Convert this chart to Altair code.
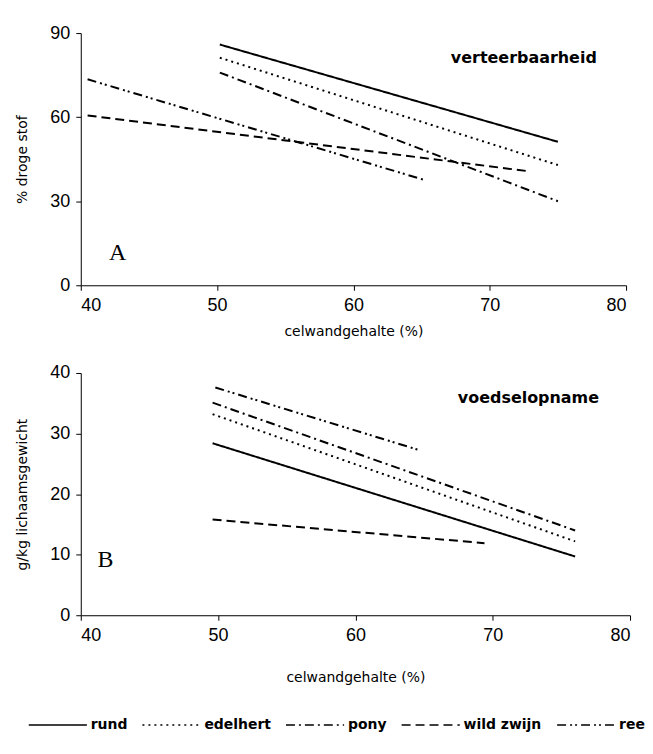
import altair as alt
import pandas as pd

species = ["rund", "edelhert", "pony", "wild zwijn", "ree"]
dashes = [[1, 0], [2, 4], [9, 4, 2, 4], [9, 5], [9, 4, 2, 3, 2, 4]]

# Panel A: verteerbaarheid (% droge stof) – start and end of each line
a_x0 = [50.2, 50.2, 50.2, 40.5, 40.5]
a_y0 = [85.9, 81.2, 75.9, 60.6, 73.5]
a_x1 = [75.0, 75.0, 75.0, 73.0, 65.2]
a_y1 = [51.2, 42.9, 30.0, 40.6, 37.6]

# Panel B: voedselopname (g/kg lichaamsgewicht)
b_x0 = [49.6, 49.6, 49.6, 49.6, 49.8]
b_y0 = [28.4, 33.2, 35.1, 15.8, 37.6]
b_x1 = [76.0, 76.0, 76.0, 69.4, 64.6]
b_y1 = [9.7, 12.2, 14.0, 11.9, 27.3]

a_labels = ["verteerbaarheid", "A"]
a_lab_x = [72.5, 42.7]
a_lab_y = [81.2, 11.5]
b_labels = ["voedselopname", "B"]
b_lab_x = [72.6, 41.8]
b_lab_y = [35.9, 9.1]


def long(x0, y0, x1, y1):
    rows = []
    for i, s in enumerate(species):
        rows.append({"soort": s, "x": x0[i], "y": y0[i], "o": 0})
        rows.append({"soort": s, "x": x1[i], "y": y1[i], "o": 1})
    return pd.DataFrame(rows)


dash_scale = alt.Scale(domain=species, range=dashes)
legend = alt.Legend(title=None, orient="none", legendX=-53, legendY=664,
                    direction="horizontal", symbolType="stroke",
                    symbolSize=3400, symbolStrokeWidth=1.5,
                    symbolStrokeColor="black", labelFont="DejaVu Sans",
                    labelFontSize=14, labelFontWeight="bold",
                    labelColor="black", columnPadding=11, labelOffset=3,
                    padding=0)


def panel(df, ytitle, ydom, yvals, labs, lx, ly, w, h, tpad):
    xenc = alt.X("x:Q", scale=alt.Scale(domain=[40, 80]),
                 axis=alt.Axis(values=[40, 50, 60, 70, 80],
                               title="celwandgehalte (%)", titlePadding=tpad))
    lines = alt.Chart(df).mark_line(color="black", strokeWidth=2).encode(
        x=xenc,
        y=alt.Y("y:Q", scale=alt.Scale(domain=ydom),
                axis=alt.Axis(values=yvals, title=ytitle)),
        strokeDash=alt.StrokeDash("soort:N", scale=dash_scale, legend=legend),
        detail="soort:N",
        order="o:Q",
    )
    ldf = pd.DataFrame({"t": labs, "x": lx, "y": ly})
    word = alt.Chart(ldf.iloc[[0]]).mark_text(font="DejaVu Sans", fontSize=16,
                                             fontWeight="bold", color="black").encode(
        x="x:Q", y="y:Q", text="t:N")
    letter = alt.Chart(ldf.iloc[[1]]).mark_text(font="Liberation Serif", fontSize=24,
                                               color="black").encode(
        x="x:Q", y="y:Q", text="t:N")
    return alt.layer(lines, word, letter).properties(width=w, height=h)


top = panel(long(a_x0, a_y0, a_x1, a_y1), "% droge stof", [0, 90], [0, 30, 60, 90],
            a_labels, a_lab_x, a_lab_y, 547, 253, 10)
bot = panel(long(b_x0, b_y0, b_x1, b_y1), "g/kg lichaamsgewicht", [0, 40],
            [0, 10, 20, 30, 40], b_labels, b_lab_x, b_lab_y, 551, 243, 26)

chart = alt.vconcat(top, bot, spacing=26).properties(
    padding={"left": 7, "top": 15, "right": 0, "bottom": 5}
).configure_view(stroke=None).configure_axis(
    grid=False, domainColor="black", tickColor="black", labelColor="black",
    titleColor="black", labelFont="Liberation Sans", labelFontSize=18,
    titleFont="DejaVu Sans", titleFontSize=14, titleFontWeight="normal",
    labelPadding=6, tickSize=5,
).configure_axisY(titlePadding=20)

chart.save("out.html", embed_options={"renderer": "svg", "actions": False})
